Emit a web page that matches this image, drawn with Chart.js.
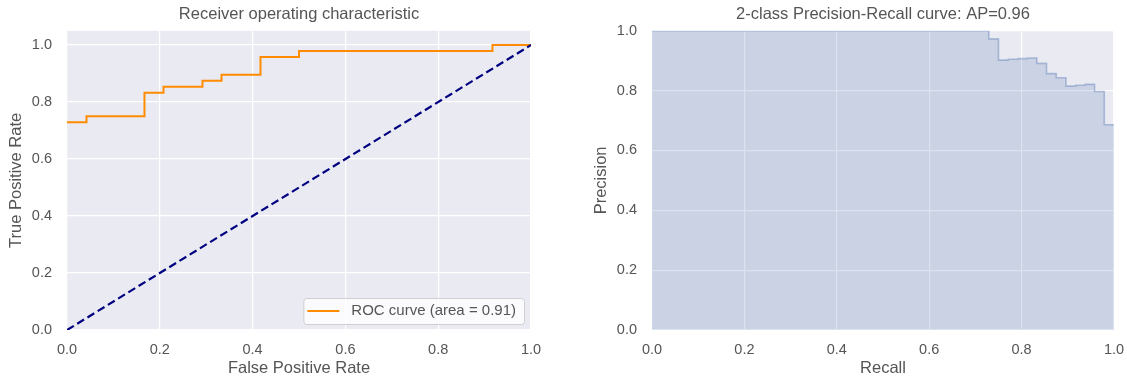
<!DOCTYPE html>
<html><head><meta charset="utf-8">
<script src="https://cdn.jsdelivr.net/npm/chart.js@4/dist/chart.umd.min.js"></script>
<style>
html,body{margin:0;padding:0;background:#fff;}
#wrap{position:relative;width:1127px;height:379px;overflow:hidden;background:#fff;}
canvas{position:absolute;top:0;}
</style></head><body>
<div id="wrap">
<canvas id="roc" width="560" height="379" style="left:0"></canvas>
<canvas id="pr" width="567" height="379" style="left:560px"></canvas>
</div>
<script>
// ---- data ----
const rocFpr = [0, 0.042, 0.167, 0.208, 0.292, 0.333, 0.417, 0.5, 0.917, 1.0];
const rocTpr = [0.729, 0.75, 0.833, 0.854, 0.875, 0.896, 0.958, 0.979, 1.0, 1.0];
const diagX = [0, 1];
const diagY = [0, 1];
const prRecall = [0, 0.729, 0.75, 0.771, 0.792, 0.8125, 0.833, 0.854, 0.875, 0.896, 0.917, 0.9375, 0.958, 0.979, 1.0];
const prPrecision = [1.0, 0.973, 0.902, 0.905, 0.907, 0.909, 0.891, 0.857, 0.843, 0.815, 0.818, 0.821, 0.797, 0.686, 0.686];
const xTicks = [0, 0.2, 0.4, 0.6, 0.8, 1.0];
const yTicks = [0, 0.2, 0.4, 0.6, 0.8, 1.0];
const rocLabel = 'ROC curve (area = 0.91)';
const rocTitle = 'Receiver operating characteristic';
const prTitle = '2-class Precision-Recall curve: AP=0.96';

// ---- styling ----
const FONT = "'Liberation Sans', Arial, Helvetica, sans-serif";
const TEXT = '#555555';
const AXBG = '#EAEAF2';

const bgPlugin = {
  id: 'axbg',
  beforeDraw(chart) {
    const {ctx, chartArea: a} = chart;
    ctx.save();
    ctx.fillStyle = AXBG;
    ctx.fillRect(a.left, a.top, a.right - a.left, a.bottom - a.top);
    ctx.restore();
  }
};

const legendPlugin = {
  id: 'boxLegend',
  afterDraw(chart) {
    const ds = chart.data.datasets[0];
    const a = chart.chartArea;
    const ctx = chart.ctx;
    ctx.save();
    ctx.font = '15px ' + FONT;
    const tw = ctx.measureText(ds.label).width;
    const h = 26;
    const w = 48 + tw + 8;
    const x = a.right - 7 - w;
    const y = a.bottom - 6 - h;
    ctx.beginPath();
    if (ctx.roundRect) ctx.roundRect(x + 0.5, y + 0.5, w, h, 3); else ctx.rect(x + 0.5, y + 0.5, w, h);
    ctx.fillStyle = 'rgba(255,255,255,0.8)';
    ctx.fill();
    ctx.strokeStyle = 'rgba(204,204,204,0.9)';
    ctx.lineWidth = 1;
    ctx.stroke();
    const cy = y + h / 2;
    ctx.beginPath();
    ctx.moveTo(x + 4, cy);
    ctx.lineTo(x + 36, cy);
    ctx.strokeStyle = ds.borderColor;
    ctx.lineWidth = ds.borderWidth;
    ctx.stroke();
    ctx.fillStyle = TEXT;
    ctx.textBaseline = 'middle';
    ctx.textAlign = 'left';
    ctx.fillText(ds.label, x + 48, cy);
    ctx.restore();
  }
};

function pts(xs, ys) { return xs.map((v, i) => ({x: v, y: ys[i]})); }

function axis(opts) {
  return {
    type: 'linear',
    min: opts.min, max: opts.max,
    afterBuildTicks: s => { s.ticks = opts.ticks.map(v => ({value: v})); },
    afterFit: s => {
      opts.fit(s);
      s.paddingLeft = 0; s.paddingRight = 0; s.paddingTop = 0; s.paddingBottom = 0;
    },
    ticks: {
      callback: v => Number(v).toFixed(1),
      font: {family: FONT, size: 14.5},
      color: TEXT,
      padding: opts.pad,
      maxRotation: 0,
      autoSkip: false
    },
    grid: {color: '#FFFFFF', lineWidth: 1.2, drawTicks: false},
    border: {display: false},
    title: {
      display: true, text: opts.title, color: TEXT,
      font: {family: FONT, size: 16.5},
      padding: opts.tpad
    }
  };
}

function titleOpt(text) {
  return {
    display: true, text: text, color: TEXT, fullSize: false,
    font: {family: FONT, size: 16.5, weight: 'normal'},
    padding: {top: 5, bottom: 6}
  };
}

new Chart(document.getElementById('roc'), {
  type: 'line',
  data: {
    datasets: [
      {
        label: rocLabel,
        data: pts(rocFpr, rocTpr),
        borderColor: '#FF8C00', borderWidth: 2,
        stepped: true, pointRadius: 0, fill: false, order: 1
      },
      {
        label: 'diagonal',
        data: pts(diagX, diagY),
        borderColor: '#000080', borderWidth: 2.2, borderDash: [8, 4],
        pointRadius: 0, fill: false, order: 0
      }
    ]
  },
  options: {
    responsive: false, animation: false,
    layout: {padding: {left: 0, right: 29, top: 0, bottom: 0}},
    plugins: {legend: {display: false}, tooltip: {enabled: false}, title: titleOpt(rocTitle)},
    scales: {
      x: axis({min: 0, max: 1, ticks: xTicks, pad: 11, title: 'False Positive Rate', tpad: {top: 0, bottom: 1}, fit: s => { s.height = 49; }}),
      y: axis({min: 0, max: 1.05, ticks: yTicks, pad: 15, title: 'True Positive Rate', tpad: {top: 7, bottom: 0}, fit: s => { s.width = 67; }})
    }
  },
  plugins: [bgPlugin, legendPlugin]
});

new Chart(document.getElementById('pr'), {
  type: 'line',
  data: {
    datasets: [
      {
        label: 'Precision-Recall',
        data: pts(prRecall, prPrecision),
        borderColor: 'rgba(76,114,176,0.38)', borderWidth: 1.6,
        backgroundColor: 'rgba(76,114,176,0.2)',
        stepped: true, pointRadius: 0, fill: 'origin'
      }
    ]
  },
  options: {
    responsive: false, animation: false,
    layout: {padding: {left: 0, right: 13, top: 0, bottom: 0}},
    plugins: {legend: {display: false}, tooltip: {enabled: false}, title: titleOpt(prTitle), filler: {propagate: false}},
    scales: {
      x: axis({min: 0, max: 1, ticks: xTicks, pad: 11, title: 'Recall', tpad: {top: 0, bottom: 1}, fit: s => { s.height = 49; }}),
      y: axis({min: 0, max: 1, ticks: yTicks, pad: 15, title: 'Precision', tpad: {top: 32, bottom: 0}, fit: s => { s.width = 92; }})
    }
  },
  plugins: [bgPlugin]
});
</script>
</body></html>
